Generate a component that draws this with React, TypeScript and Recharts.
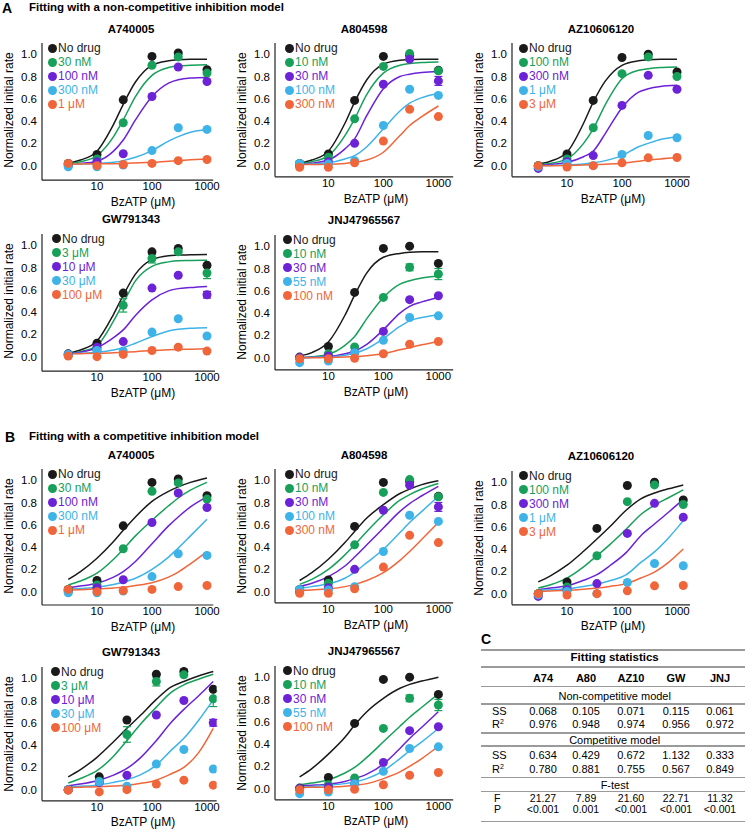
import React from "react";
import { ComposedChart, ErrorBar, Legend, Line, Scatter, XAxis, YAxis } from "recharts";

const FONT = '"Liberation Sans", Arial, Helvetica, sans-serif';
const COLORS = ["#1a1a1a", "#17a05a", "#6c22d6", "#3eb3e8", "#f0663a"];

// BzATP concentrations (µM)
const X_STD = [3, 10, 30, 100, 300, 1000];
const X_AZ_B = [3, 10, 35, 125, 390, 1300];
const X_GW_B = [3, 11, 35, 120, 380, 1300];
const CX = [3, 5, 10, 20, 30, 50, 100, 200, 300, 500, 1000];
const CX_WIDE = [3, 5, 10, 20, 35, 60, 120, 220, 380, 700, 1300];
const X_TICKS = [10, 100, 1000];
const Y_TICKS = [0, 0.2, 0.4, 0.6, 0.8, 1.0];

// legends
const A74_LABELS = ["No drug", "30 nM", "100 nM", "300 nM", "1 μM"];
const A80_LABELS = ["No drug", "10 nM", "30 nM", "100 nM", "300 nM"];
const AZ_LABELS = ["No drug", "100 nM", "300 nM", "1 μM", "3 μM"];
const GW_LABELS = ["No drug", "3 μM", "10 μM", "30 μM", "100 μM"];
const JNJ_LABELS = ["No drug", "10 nM", "30 nM", "55 nM", "100 nM"];

// measured points (normalized initial rate), one row per drug concentration
const A74_PTS = [
  [0.02, 0.1, 0.59, 0.98, 1.01, 0.86],
  [0.01, 0.06, 0.385, 0.9, 0.975, 0.83],
  [0.0, 0.035, 0.107, 0.62, 0.885, 0.755],
  [-0.01, -0.01, 0.005, 0.135, 0.34, 0.325],
  [0.02, 0.0, 0.01, 0.02, 0.045, 0.055],
];
const A80_PTS = [
  [0.02, 0.105, 0.585, 0.98, 0.99, 0.855],
  [0.01, 0.075, 0.42, 0.89, 1.005, 0.85],
  [0.0, 0.035, 0.2, 0.73, 0.955, 0.76],
  [0.02, 0.015, 0.045, 0.36, 0.685, 0.63],
  [-0.015, -0.015, 0.025, 0.22, 0.505, 0.44],
];
const A80_ERR = [
  [0, 0, 0, 0, 0, 0],
  [0, 0, 0, 0, 0, 0],
  [0, 0, 0, 0, 0, 0.04],
  [0, 0, 0, 0, 0, 0],
  [0, 0, 0, 0, 0, 0],
];
const AZ_PTS = [
  [0.0, 0.105, 0.585, 0.97, 1.0, 0.84],
  [0.0, 0.06, 0.34, 0.825, 0.975, 0.8],
  [-0.025, 0.035, 0.09, 0.54, 0.81, 0.685],
  [-0.01, 0.02, 0.0, 0.1, 0.27, 0.25],
  [0.0, -0.012, 0.0, 0.025, 0.07, 0.073],
];
const GW_PTS_A = [
  [0.025, 0.12, 0.57, 0.94, 0.97, 0.82],
  [0.01, 0.06, 0.46, 0.88, 0.94, 0.75],
  [0.02, 0.085, 0.135, 0.615, 0.73, 0.555],
  [0.02, 0.055, 0.05, 0.22, 0.34, 0.185],
  [0.005, 0.0, 0.02, 0.055, 0.085, 0.05],
];
const GW_ERR_A = [
  [0, 0, 0, 0, 0, 0],
  [0, 0, 0.06, 0.04, 0, 0.05],
  [0, 0, 0, 0, 0, 0.03],
  [0, 0, 0, 0, 0, 0],
  [0, 0, 0, 0, 0, 0],
];
const GW_PTS_B = [
  [0.0, 0.115, 0.625, 1.035, 1.06, 0.9],
  [0.0, 0.075, 0.495, 0.97, 1.03, 0.815],
  [0.0, 0.065, 0.13, 0.67, 0.8, 0.6],
  [0.0, 0.07, 0.03, 0.23, 0.36, 0.185],
  [-0.005, -0.02, 0.0, 0.05, 0.085, 0.04],
];
const GW_ERR_B = [
  [0, 0, 0, 0, 0, 0],
  [0, 0, 0.07, 0.04, 0, 0.07],
  [0, 0, 0, 0, 0, 0.03],
  [0, 0, 0, 0, 0, 0],
  [0, 0, 0, 0, 0, 0],
];
const JNJ_PTS = [
  [0.005, 0.1, 0.585, 0.98, 1.0, 0.845],
  [0.0, 0.035, 0.095, 0.54, 0.81, 0.75],
  [0.0, 0.015, 0.045, 0.235, 0.52, 0.555],
  [-0.045, -0.03, 0.045, 0.155, 0.36, 0.375],
  [-0.01, -0.01, -0.005, 0.035, 0.12, 0.145],
];
const JNJ_ERR = [
  [0, 0, 0, 0, 0, 0],
  [0, 0, 0, 0, 0.03, 0.05],
  [0, 0, 0, 0, 0, 0],
  [0, 0, 0, 0, 0, 0],
  [0, 0, 0, 0, 0, 0],
];

// non-competitive fits (panel A), read at CX
const A74_NC = [
  [0.02, 0.05, 0.13, 0.37, 0.55, 0.75, 0.9, 0.94, 0.95, 0.955, 0.955],
  [0.015, 0.035, 0.09, 0.26, 0.41, 0.62, 0.81, 0.88, 0.895, 0.9, 0.905],
  [0.015, 0.02, 0.04, 0.13, 0.23, 0.41, 0.62, 0.74, 0.77, 0.785, 0.79],
  [0.015, 0.016, 0.02, 0.03, 0.045, 0.075, 0.135, 0.22, 0.26, 0.3, 0.325],
  [0.015, 0.015, 0.016, 0.018, 0.02, 0.024, 0.03, 0.04, 0.045, 0.052, 0.06],
];
const A80_NC = [
  [0.02, 0.05, 0.13, 0.38, 0.57, 0.77, 0.91, 0.945, 0.95, 0.955, 0.955],
  [0.018, 0.035, 0.09, 0.27, 0.42, 0.64, 0.83, 0.9, 0.915, 0.925, 0.93],
  [0.015, 0.022, 0.05, 0.15, 0.24, 0.45, 0.69, 0.8, 0.82, 0.835, 0.845],
  [0.012, 0.014, 0.025, 0.06, 0.09, 0.17, 0.33, 0.49, 0.56, 0.61, 0.65],
  [0.01, 0.01, 0.012, 0.02, 0.03, 0.05, 0.12, 0.27, 0.36, 0.44, 0.535],
];
const AZ_NC = [
  [0.015, 0.04, 0.12, 0.38, 0.57, 0.76, 0.9, 0.94, 0.95, 0.955, 0.955],
  [0.01, 0.02, 0.06, 0.2, 0.33, 0.55, 0.78, 0.855, 0.87, 0.88, 0.885],
  [0.005, 0.01, 0.03, 0.08, 0.13, 0.29, 0.52, 0.66, 0.69, 0.71, 0.72],
  [0.0, 0.002, 0.006, 0.015, 0.025, 0.045, 0.09, 0.17, 0.2, 0.235, 0.26],
  [0.0, 0.0, 0.002, 0.005, 0.008, 0.013, 0.022, 0.04, 0.05, 0.06, 0.07],
];
const GW_NC = [
  [0.03, 0.06, 0.14, 0.38, 0.55, 0.74, 0.87, 0.905, 0.91, 0.915, 0.917],
  [0.025, 0.045, 0.1, 0.32, 0.48, 0.68, 0.81, 0.85, 0.86, 0.862, 0.865],
  [0.025, 0.04, 0.08, 0.17, 0.24, 0.37, 0.51, 0.59, 0.61, 0.62, 0.63],
  [0.025, 0.03, 0.04, 0.06, 0.08, 0.12, 0.18, 0.23, 0.245, 0.255, 0.26],
  [0.025, 0.027, 0.03, 0.035, 0.04, 0.045, 0.055, 0.062, 0.065, 0.067, 0.07],
];
const JNJ_NC = [
  [0.015, 0.045, 0.14, 0.38, 0.56, 0.76, 0.9, 0.935, 0.945, 0.95, 0.95],
  [0.0, 0.008, 0.03, 0.11, 0.19, 0.35, 0.54, 0.66, 0.69, 0.715, 0.73],
  [0.0, 0.003, 0.01, 0.035, 0.06, 0.12, 0.25, 0.4, 0.46, 0.5, 0.54],
  [0.0, 0.002, 0.007, 0.022, 0.04, 0.08, 0.17, 0.28, 0.33, 0.36, 0.385],
  [0.0, 0.0, 0.002, 0.006, 0.01, 0.018, 0.035, 0.07, 0.09, 0.115, 0.145],
];

// competitive fits (panel B)
const A74_C = [
  [0.11, 0.18, 0.3, 0.45, 0.55, 0.67, 0.81, 0.9, 0.94, 0.98, 1.02],
  [0.06, 0.095, 0.165, 0.29, 0.38, 0.5, 0.64, 0.77, 0.84, 0.91, 0.98],
  [0.035, 0.05, 0.075, 0.13, 0.18, 0.27, 0.43, 0.59, 0.67, 0.76, 0.85],
  [0.02, 0.028, 0.04, 0.065, 0.085, 0.12, 0.2, 0.31, 0.39, 0.5, 0.65],
  [0.015, 0.018, 0.025, 0.033, 0.04, 0.055, 0.08, 0.13, 0.175, 0.25, 0.36],
];
const A80_C = [
  [0.1, 0.17, 0.29, 0.44, 0.54, 0.66, 0.78, 0.88, 0.92, 0.96, 0.995],
  [0.065, 0.11, 0.2, 0.33, 0.42, 0.54, 0.69, 0.82, 0.87, 0.92, 0.97],
  [0.045, 0.075, 0.135, 0.23, 0.31, 0.42, 0.57, 0.72, 0.79, 0.86, 0.945],
  [0.03, 0.045, 0.07, 0.12, 0.175, 0.26, 0.38, 0.53, 0.62, 0.72, 0.855],
  [0.01, 0.015, 0.025, 0.045, 0.065, 0.1, 0.17, 0.28, 0.36, 0.47, 0.62],
];
const AZ_C = [
  [0.105, 0.16, 0.255, 0.38, 0.49, 0.6, 0.75, 0.85, 0.9, 0.94, 0.975],
  [0.05, 0.08, 0.14, 0.24, 0.34, 0.44, 0.58, 0.71, 0.79, 0.86, 0.93],
  [0.035, 0.05, 0.07, 0.12, 0.17, 0.25, 0.37, 0.52, 0.62, 0.73, 0.845],
  [0.03, 0.035, 0.045, 0.065, 0.085, 0.115, 0.17, 0.28, 0.37, 0.5, 0.655],
  [0.02, 0.024, 0.03, 0.04, 0.05, 0.065, 0.09, 0.14, 0.19, 0.28, 0.4],
];
const GW_C = [
  [0.115, 0.18, 0.29, 0.43, 0.55, 0.66, 0.81, 0.92, 0.97, 1.02, 1.06],
  [0.06, 0.1, 0.17, 0.3, 0.44, 0.58, 0.74, 0.87, 0.94, 0.99, 1.035],
  [0.035, 0.05, 0.08, 0.13, 0.19, 0.28, 0.44, 0.6, 0.72, 0.84, 0.97],
  [0.025, 0.03, 0.04, 0.065, 0.09, 0.13, 0.22, 0.35, 0.46, 0.62, 0.805],
  [0.02, 0.022, 0.025, 0.032, 0.04, 0.055, 0.085, 0.14, 0.2, 0.33, 0.55],
];
const JNJ_C = [
  [0.105, 0.18, 0.31, 0.46, 0.57, 0.69, 0.81, 0.9, 0.935, 0.965, 1.0],
  [0.035, 0.05, 0.08, 0.14, 0.19, 0.28, 0.42, 0.56, 0.64, 0.73, 0.85],
  [0.025, 0.03, 0.04, 0.065, 0.09, 0.13, 0.22, 0.36, 0.45, 0.55, 0.69],
  [0.015, 0.02, 0.03, 0.045, 0.06, 0.09, 0.16, 0.27, 0.34, 0.42, 0.54],
  [0.01, 0.012, 0.015, 0.022, 0.03, 0.045, 0.09, 0.15, 0.2, 0.27, 0.38],
];

// table C
const TABLE_COLS = ["A74", "A80", "AZ10", "GW", "JNJ"];
const NC_SS = ["0.068", "0.105", "0.071", "0.115", "0.061"];
const NC_R2 = ["0.976", "0.948", "0.974", "0.956", "0.972"];
const C_SS = ["0.634", "0.429", "0.672", "1.132", "0.333"];
const C_R2 = ["0.780", "0.881", "0.755", "0.567", "0.849"];
const F_VALS = ["21.27", "7.89", "21.60", "22.71", "11.32"];
const P_VALS = ["<0.001", "0.001", "<0.001", "<0.001", "<0.001"];

const UNIT = 111.5; // px per 1.0 on y
const DECADE = 55; // px per decade on x
const YW = 40;
const MT = 6;
const MR = 8;
const XH = 20;

function Txt({ x, y, size = 12, bold = false, anchor = "middle", children }: any) {
  const tx = anchor === "middle" ? "-50%" : "0";
  return (
    <div
      style={{
        position: "absolute",
        left: x,
        top: y,
        transform: `translate(${tx}, -50%)`,
        fontSize: size,
        fontWeight: bold ? 700 : 400,
        fontFamily: FONT,
        whiteSpace: "nowrap",
        lineHeight: 1,
        color: "#000",
      }}
    >
      {children}
    </div>
  );
}

function Panel({ g, title, labels, px, pts, errs, cx, curves }: any) {
  const plotW = (Math.log10(g.xMax) - Math.log10(g.xMin)) * DECADE;
  const plotH = (1.1 - g.yMin) * UNIT;
  const plotTop = g.y0 - 1.1 * UNIT;
  const axisY = plotTop + plotH;
  const tickStyle = { fontSize: 11.5, fill: "#000", fontFamily: FONT };
  const axisLine = { stroke: "#222", strokeWidth: 1.2 };

  return (
    <>
      <Txt x={g.left + 89} y={plotTop - 13.5} bold size={11.5}>
        {title}
      </Txt>
      <div
        style={{
          position: "absolute",
          left: g.left - 33,
          top: g.y0 - 0.5 * UNIT,
          transform: "translate(-50%, -50%) rotate(-90deg)",
          fontSize: 12,
          fontFamily: FONT,
          whiteSpace: "nowrap",
          lineHeight: 1,
        }}
      >
        Normalized initial rate
      </div>
      <Txt x={g.left + 101} y={axisY + 22}>
        BzATP (μM)
      </Txt>
      <div style={{ position: "absolute", left: g.left - YW, top: plotTop - MT }}>
        <ComposedChart
          width={YW + plotW + MR}
          height={MT + plotH + XH}
          margin={{ top: MT, right: MR, bottom: 0, left: 0 }}
        >
          <XAxis
            dataKey="x"
            type="number"
            scale="log"
            domain={[g.xMin, g.xMax]}
            ticks={X_TICKS}
            allowDataOverflow
            height={XH}
            tickSize={0}
            tickMargin={2}
            tick={tickStyle}
            axisLine={axisLine}
          />
          <YAxis
            dataKey="y"
            type="number"
            domain={[g.yMin, 1.1]}
            ticks={Y_TICKS}
            allowDataOverflow
            width={YW}
            tickSize={0}
            tickMargin={5}
            tick={tickStyle}
            axisLine={axisLine}
            tickFormatter={(v: number) => v.toFixed(1)}
          />
          {curves.map((c: number[], i: number) => (
            <Line
              key={"l" + i}
              data={cx.map((x: number, j: number) => ({ x, y: c[j] }))}
              dataKey="y"
              type="monotone"
              stroke={COLORS[i]}
              strokeWidth={1.5}
              dot={false}
              activeDot={false}
              legendType="none"
              isAnimationActive={false}
            />
          ))}
          {pts.map((p: number[], i: number) => {
            const e = errs ? errs[i] : null;
            return (
              <Scatter
                key={"s" + i}
                name={labels[i]}
                data={px.map((x: number, j: number) => ({ x, y: p[j], e: e ? e[j] : 0 }))}
                fill={COLORS[i]}
                shape={(s: any) => <circle cx={s.cx} cy={s.cy} r={4.5} fill={COLORS[i]} />}
                isAnimationActive={false}
              >
                {e && e.some((v: number) => v > 0) ? (
                  <ErrorBar dataKey="e" direction="y" width={4} stroke={COLORS[i]} strokeWidth={1.2} />
                ) : null}
              </Scatter>
            );
          })}
          <Legend
            layout="horizontal"
            verticalAlign="middle"
            align="center"
            wrapperStyle={{ left: YW + g.legendDx - 4.5, top: MT - 2, width: "auto" }}
            content={() => (
              <div style={{ fontFamily: FONT, fontSize: 12 }}>
                {labels.map((l: string, i: number) => (
                  <div key={i} style={{ display: "flex", alignItems: "center", height: 14, color: COLORS[i] }}>
                    <span
                      style={{
                        display: "inline-block",
                        width: 9,
                        height: 9,
                        borderRadius: "50%",
                        background: COLORS[i],
                        marginRight: 1.5,
                      }}
                    />
                    <span style={{ lineHeight: "14px" }}>{l}</span>
                  </div>
                ))}
              </div>
            )}
          />
        </ComposedChart>
      </div>
    </>
  );
}

const COL_X = [543, 586, 631, 676, 720];

function HLine({ y }: { y: number }) {
  return <div style={{ position: "absolute", left: 481, width: 264, top: y - 0.75, height: 1.5, background: "#9a9a9a" }} />;
}

function Row({ y, label, vals, bold = false, lx = 492, size = 11 }: any) {
  return (
    <>
      {label ? (
        <Txt x={lx} y={y} size={size} anchor="start">
          {label}
        </Txt>
      ) : null}
      {vals.map((v: string, i: number) => (
        <Txt key={i} x={COL_X[i]} y={y} size={size} bold={bold}>
          {v}
        </Txt>
      ))}
    </>
  );
}

function StatsTable() {
  const r2 = (
    <span>
      R<sup style={{ fontSize: 7, verticalAlign: "4px" }}>2</sup>
    </span>
  );
  return (
    <>
      <Txt x={481} y={639} size={14} bold anchor="start">
        C
      </Txt>
      <HLine y={650} />
      <Txt x={614.7} y={657.5} size={11.5} bold>
        Fitting statistics
      </Txt>
      <HLine y={667} />
      <Row y={678} vals={TABLE_COLS} bold />
      <HLine y={686.5} />
      <Txt x={614.7} y={696} size={11}>
        Non-competitive model
      </Txt>
      <HLine y={704} />
      <Row y={710.5} label="SS" vals={NC_SS} />
      <Row y={723.5} label={r2} vals={NC_R2} />
      <HLine y={733} />
      <Txt x={614.7} y={739.5} size={11}>
        Competitive model
      </Txt>
      <HLine y={746} />
      <Row y={755} label="SS" vals={C_SS} />
      <Row y={769} label={r2} vals={C_R2} />
      <HLine y={777.5} />
      <Txt x={614.7} y={784.5} size={11}>
        F-test
      </Txt>
      <HLine y={791.5} />
      <Row y={797.5} label="F" vals={F_VALS} lx={494} size={10.5} />
      <Row y={809} label="P" vals={P_VALS} lx={494} size={10.5} />
      <HLine y={821.5} />
    </>
  );
}

export default function App() {
  return (
    <div
      style={{
        position: "absolute",
        left: 0,
        top: 0,
        width: 747,
        height: 833,
        overflow: "hidden",
        background: "#fff",
        fontFamily: FONT,
      }}
    >
      <Txt x={2} y={7.5} size={14} bold anchor="start">
        A
      </Txt>
      <Txt x={29} y={7.5} size={11.5} bold anchor="start">
        Fitting with a non-competitive inhibition model
      </Txt>
      <Txt x={5} y={437.3} size={14} bold anchor="start">
        B
      </Txt>
      <Txt x={29} y={437.3} size={11.5} bold anchor="start">
        Fitting with a competitive inhibition model
      </Txt>

      <Panel g={{ left: 42, y0: 165.7, yMin: -0.13, xMin: 1, xMax: 1300, legendDx: 10 }} title="A740005" labels={A74_LABELS} px={X_STD} pts={A74_PTS} cx={CX} curves={A74_NC} />
      <Panel g={{ left: 275, y0: 165.7, yMin: -0.1, xMin: 1.07, xMax: 1860, legendDx: 14 }} title="A804598" labels={A80_LABELS} px={X_STD} pts={A80_PTS} errs={A80_ERR} cx={CX} curves={A80_NC} />
      <Panel g={{ left: 512, y0: 165.7, yMin: -0.1, xMin: 1, xMax: 1720, legendDx: 11 }} title="AZ10606120" labels={AZ_LABELS} px={X_STD} pts={AZ_PTS} cx={CX} curves={AZ_NC} />
      <Panel g={{ left: 42, y0: 356.3, yMin: -0.13, xMin: 1, xMax: 1400, legendDx: 14 }} title="GW791343" labels={GW_LABELS} px={X_STD} pts={GW_PTS_A} errs={GW_ERR_A} cx={CX} curves={GW_NC} />
      <Panel g={{ left: 275, y0: 357.3, yMin: -0.11, xMin: 1.07, xMax: 1860, legendDx: 12 }} title="JNJ47965567" labels={JNJ_LABELS} px={X_STD} pts={JNJ_PTS} errs={JNJ_ERR} cx={CX} curves={JNJ_NC} />

      <Panel g={{ left: 42, y0: 591.7, yMin: -0.12, xMin: 1, xMax: 1300, legendDx: 10 }} title="A740005" labels={A74_LABELS} px={X_STD} pts={A74_PTS} cx={CX} curves={A74_C} />
      <Panel g={{ left: 275, y0: 591.7, yMin: -0.1, xMin: 1.07, xMax: 1860, legendDx: 14 }} title="A804598" labels={A80_LABELS} px={X_STD} pts={A80_PTS} errs={A80_ERR} cx={CX} curves={A80_C} />
      <Panel g={{ left: 512, y0: 593.3, yMin: -0.1, xMin: 1, xMax: 1720, legendDx: 11 }} title="AZ10606120" labels={AZ_LABELS} px={X_AZ_B} pts={AZ_PTS} cx={CX_WIDE} curves={AZ_C} />
      <Panel g={{ left: 42, y0: 789.3, yMin: -0.1, xMin: 1, xMax: 1500, legendDx: 13 }} title="GW791343" labels={GW_LABELS} px={X_GW_B} pts={GW_PTS_B} errs={GW_ERR_B} cx={CX_WIDE} curves={GW_C} />
      <Panel g={{ left: 275, y0: 788.3, yMin: -0.1, xMin: 1.07, xMax: 1860, legendDx: 12 }} title="JNJ47965567" labels={JNJ_LABELS} px={X_STD} pts={JNJ_PTS} errs={JNJ_ERR} cx={CX} curves={JNJ_C} />

      <StatsTable />
    </div>
  );
}
